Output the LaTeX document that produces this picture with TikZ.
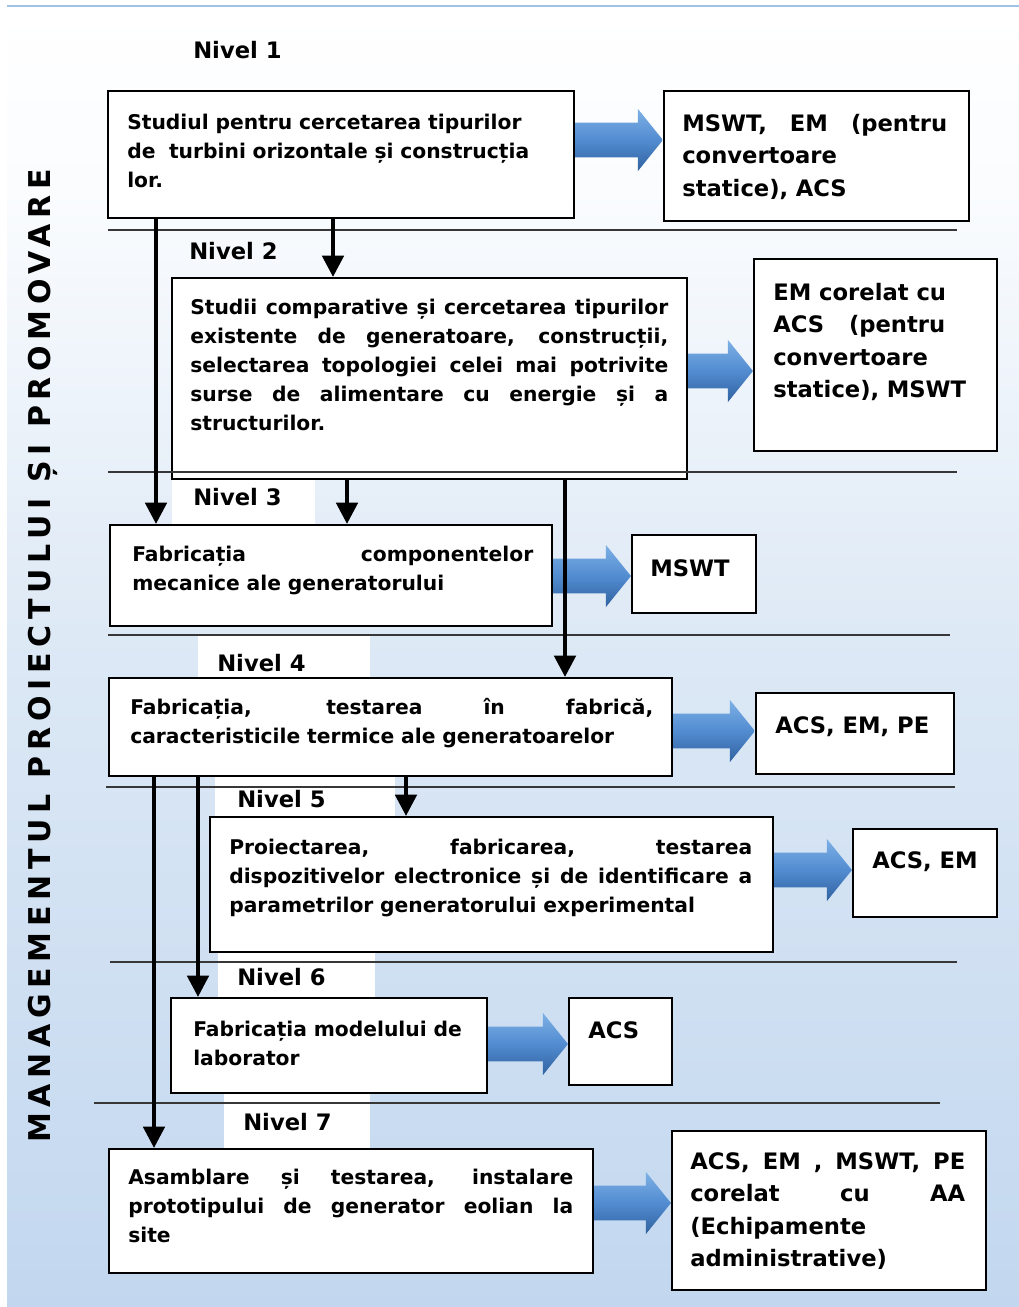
\documentclass[tikz,border=0pt]{standalone}
\usepackage{fontspec}
\setmainfont{DejaVu Sans}
\newfontfamily\titlefont[LetterSpace=19]{DejaVu Sans}
\usetikzlibrary{arrows.meta,calc,fit}

\definecolor{bgtop}{RGB}{250,252,254}
\definecolor{bgmid}{RGB}{220,232,245}
\definecolor{bgbot}{RGB}{194,215,239}
\definecolor{toprule}{RGB}{157,195,230}
\definecolor{arrL}{RGB}{125,176,230}
\definecolor{arrM}{RGB}{82,140,208}
\definecolor{arrD}{RGB}{48,98,160}
\definecolor{sepgray}{RGB}{55,55,55}

\pgfdeclareverticalshading{bgfade}{100bp}{color(0bp)=(bgbot); color(25bp)=(bgbot); color(50bp)=(bgmid); color(68bp)=(bgtop); color(75bp)=(white); color(100bp)=(white)}

% justified line of a given width (in px units of the picture): spaces stretch
\newcommand\jline[2]{\leavevmode\hbox to \dimexpr #1pt*3/4\relax{\spaceskip=\fontdimen2\font plus 1fil\relax #2}}

% wide blue block arrow between two boxes at height #3
\newcommand\flowarrow[3]{%
  \path[flow] let \p1=(#1.east), \p2=(#2.west), \p3=(0,#3) in
    (\x1,\y3+13.1pt) -- (\x2-18.75pt,\y3+13.1pt) -- (\x2-18.75pt,\y3+23.25pt)
    -- (\x2,\y3) -- (\x2-18.75pt,\y3-23.25pt) -- (\x2-18.75pt,\y3-13.1pt)
    -- (\x1,\y3-13.1pt) -- cycle;}

\begin{document}
\begin{tikzpicture}[x=0.75pt,y=-0.75pt,
  box/.style={draw=black, line width=1.6pt, fill=white, inner sep=0pt},
  maintext/.style={font=\bfseries\fontsize{15.2}{21.75}\selectfont, inner sep=0pt, align=left, anchor=base west},
  sidetext/.style={font=\bfseries\fontsize{17}{24.4}\selectfont, inner sep=0pt, align=left, anchor=base west},
  level/.style={font=\bfseries\fontsize{17}{20}\selectfont, inner sep=0pt, anchor=base west},
  sep/.style={draw=sepgray, line width=2.2pt},
  down/.style={line width=3pt, -{Triangle[width=16pt,length=16pt]}},
  band/.style={fill=white},
  flow/.style={top color=arrL, bottom color=arrD, middle color=arrM, draw=none}
]
\useasboundingbox (0,0) rectangle (1019,1307);

% background
\fill[white] (0,0) rectangle (1019,1307);
\shade[shading=bgfade] (7,10) rectangle (1019,1307);
\draw[toprule, line width=1.9pt] (7,6) -- (1019,6);

% white bands behind the level labels
\fill[band] (172,479) rectangle (315,525);
\fill[band] (198,635) rectangle (370,678);
\fill[band] (215,776) rectangle (395,817);
\fill[band] (218,952) rectangle (375,998);
\fill[band] (224,1093) rectangle (370,1149);

% process boxes
\node[box, fit={(108,91) (574,218)}] (b1) {};
\node[box, fit={(172,278) (687,479)}] (b2) {};
\node[box, fit={(110,525) (552,626)}] (b3) {};
\node[box, fit={(109,678) (672,776)}] (b4) {};
\node[box, fit={(210,817) (773,952)}] (b5) {};
\node[box, fit={(171,998) (487,1093)}] (b6) {};
\node[box, fit={(109,1149) (593,1273)}] (b7) {};

% outcome boxes
\node[box, fit={(664,91) (969,221)}] (o1) {};
\node[box, fit={(754,259) (997,451)}] (o2) {};
\node[box, fit={(632,535) (756,613)}] (o3) {};
\node[box, fit={(756,693) (954,774)}] (o4) {};
\node[box, fit={(853,829) (997,917)}] (o5) {};
\node[box, fit={(569,998) (672,1085)}] (o6) {};
\node[box, fit={(672,1131) (986,1290)}] (o7) {};

% level separators
\draw[sep] (108,230) -- (957,230);
\draw[sep] (108,472) -- (957,472);
\draw[sep] (108,635) -- (950,635);
\draw[sep] (106,787) -- (955,787);
\draw[sep] (110,962) -- (957,962);
\draw[sep] (94,1103) -- (940,1103);

% block arrows towards the outcomes
\flowarrow{b1}{o1}{140}
\flowarrow{b2}{o2}{371}
\flowarrow{b3}{o3}{576}
\flowarrow{b4}{o4}{731}
\flowarrow{b5}{o5}{870}
\flowarrow{b6}{o6}{1044}
\flowarrow{b7}{o7}{1203}

% vertical flow between levels
\coordinate (xA) at (156,0);
\coordinate (xB) at (333,0);
\coordinate (xC) at (347,0);
\coordinate (xD) at (565,0);
\coordinate (xE) at (154,0);
\coordinate (xF) at (198,0);
\coordinate (xG) at (406,0);
\draw[down] (b1.south -| xA) -- (b3.north -| xA);
\draw[down] (b1.south -| xB) -- (b2.north -| xB);
\draw[down] (b2.south -| xC) -- (b3.north -| xC);
\draw[down] (b2.south -| xD) -- (b4.north -| xD);
\draw[down] (b4.south -| xE) -- (b7.north -| xE);
\draw[down] (b4.south -| xF) -- (b6.north -| xF);
\draw[down] (b4.south -| xG) -- (b5.north -| xG);

% level labels
\node[level] (n1) at (193,58) {Nivel 1};
\node[level] (n2) at (189,259) {Nivel 2};
\node[level] (n3) at (193,505) {Nivel 3};
\node[level] (n4) at (217,671) {Nivel 4};
\node[level] (n5) at (237,807) {Nivel 5};
\node[level] (n6) at (237,985) {Nivel 6};
\node[level] (n7) at (243,1130) {Nivel 7};

% box texts
\node[maintext, text width=330pt] (t1) at (127,129)
  {Studiul pentru cercetarea tipurilor\\de \ turbini orizontale și construcția\\lor.};
\node[maintext, text width=358.5pt] (t2) at (190,314)
  {\jline{478}{Studii comparative și cercetarea tipurilor}\\
   \jline{478}{existente de generatoare, construcții,}\\
   \jline{478}{selectarea topologiei celei mai potrivite}\\
   \jline{478}{surse de alimentare cu energie și a}\\
   structurilor.};
\node[maintext, text width=300.75pt] (t3) at (132,561)
  {\jline{401}{Fabricația componentelor}\\mecanice ale generatorului};
\node[maintext, text width=392.25pt] (t4) at (130,714)
  {\jline{523}{Fabricația, testarea în fabrică,}\\caracteristicile termice ale generatoarelor};
\node[maintext, text width=392.25pt] (t5) at (229,854)
  {\jline{523}{Proiectarea, fabricarea, testarea}\\
   \jline{523}{dispozitivelor electronice și de identificare a}\\
   parametrilor generatorului experimental};
\node[maintext, text width=217.5pt] (t6) at (193,1036)
  {Fabricația modelului de\\laborator};
\node[maintext, text width=333.75pt] (t7) at (128,1184)
  {\jline{445}{Asamblare și testarea, instalare}\\
   \jline{445}{prototipului de generator eolian la}\\
   site};

% outcome texts
\node[sidetext, text width=213.75pt] (u1) at (682,131)
  {\jline{265}{MSWT, EM (pentru}\\convertoare\\statice), ACS};
\node[sidetext, text width=165pt] (u2) at (773,300)
  {\jline{172}{EM corelat cu}\\\jline{172}{ACS (pentru}\\convertoare\\statice), MSWT};
\node[sidetext] (u3) at (650,576) {MSWT};
\node[sidetext] (u4) at (775,733) {ACS, EM, PE};
\node[sidetext] (u5) at (872,868) {ACS, EM};
\node[sidetext] (u6) at (588,1038) {ACS};
\node[sidetext, text width=206.25pt] (u7) at (690,1169)
  {\jline{275}{ACS, EM , MSWT, PE}\\\jline{275}{corelat cu AA}\\(Echipamente\\administrative)};

% side title
\node[rotate=90, font=\titlefont\bfseries\fontsize{22.5}{27}\selectfont, inner sep=0pt] (title) at (43,656)
  {MANAGEMENTUL PROIECTULUI ȘI PROMOVARE};
\end{tikzpicture}
\end{document}
